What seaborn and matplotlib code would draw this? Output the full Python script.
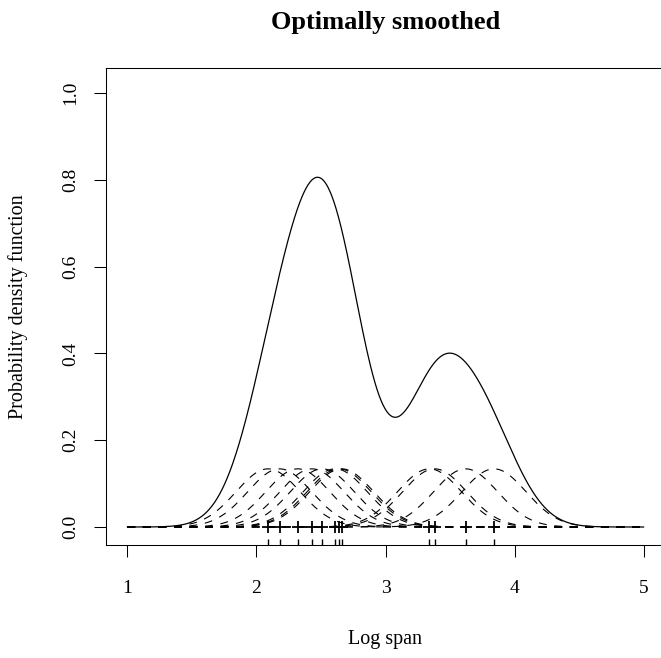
import numpy as np
import pandas as pd
import matplotlib
matplotlib.use("Agg")
import matplotlib.pyplot as plt
import seaborn as sns

# log spans (crosses / rug along the bottom)
log_span = [2.09, 2.18, 2.32, 2.43, 2.51, 2.61, 2.64, 2.66, 3.34, 3.38, 3.62, 3.84]
bandwidth = 0.248
x_ticks = [1, 2, 3, 4, 5]
y_ticks = [0.0, 0.2, 0.4, 0.6, 0.8, 1.0]

sns.set_theme(style="ticks")
plt.rcParams["font.family"] = ["Liberation Serif", "DejaVu Serif"]

# gaussian kernels and their average
grid = np.linspace(1, 5, 801)
pts = np.array(log_span)
n = len(pts)
kernels = np.exp(-0.5 * ((grid[:, None] - pts[None, :]) / bandwidth) ** 2) / (n * bandwidth * np.sqrt(2 * np.pi))
density = pd.DataFrame({"x": grid, "y": kernels.sum(axis=1)})

fig = plt.figure(figsize=(6.61, 6.58), dpi=100)
ax = fig.add_axes([0.1604, 0.1717, 0.8448, 0.725])

for i in range(n):
    sns.lineplot(x=grid, y=kernels[:, i], ax=ax, color="black", lw=0.8,
                 linestyle=(0, (7, 7)), estimator=None, sort=False)
sns.lineplot(data=density, x="x", y="y", ax=ax, color="black", lw=0.9, estimator=None, sort=False)
sns.scatterplot(x=pts, y=np.zeros(n), ax=ax, marker="+", s=80, color="black", linewidth=1.3, zorder=5)
sns.rugplot(x=pts, ax=ax, height=0.0125, color="black", lw=0.9)

ax.set_xlim(0.835, 5.16)
ax.set_ylim(-0.0415, 1.058)
ax.set_xticks(x_ticks)
ax.set_xticklabels([str(v) for v in x_ticks])
ax.set_yticks(y_ticks)
ax.set_yticklabels([f"{v:.1f}" for v in y_ticks], rotation=90, va="center")
ax.tick_params(axis="both", direction="out", length=8.5, width=0.75, color="black",
               labelsize=14, labelcolor="black")
ax.tick_params(axis="x", pad=17)
ax.tick_params(axis="y", pad=11)
for sp in ax.spines.values():
    sp.set_linewidth(0.75)
    sp.set_color("black")

ax.set_xlabel("Log span", fontsize=14.5, color="black")
ax.xaxis.set_label_coords(0.5, -0.199)
ax.xaxis.label.set_va("center")
ax.set_ylabel("Probability density function", fontsize=14.5, color="black")
ax.yaxis.set_label_coords(-0.157, 0.5)
ax.yaxis.label.set_va("center")
fig.text(0.583, 0.966, "Optimally smoothed", ha="center", va="center",
         fontsize=19, fontweight="bold", color="black")

fig.savefig("out.png", dpi=100, facecolor="white")
